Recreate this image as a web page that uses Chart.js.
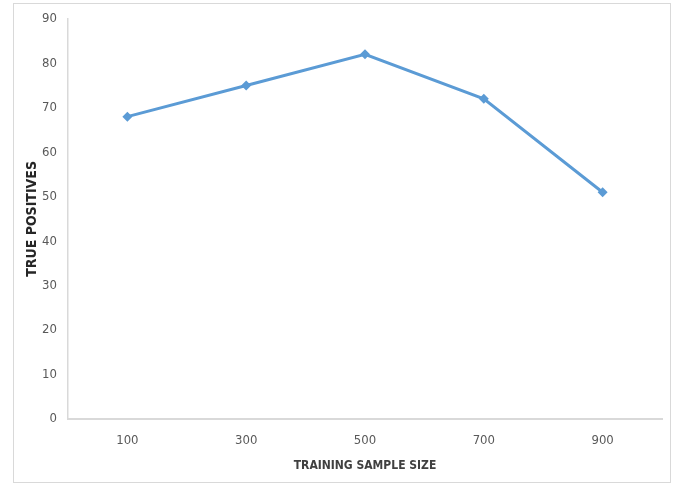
<!DOCTYPE html>
<html>
<head>
<meta charset="utf-8">
<script src="https://cdn.jsdelivr.net/npm/chart.js@4/dist/chart.umd.min.js"></script>
<style>
    html, body { margin: 0; padding: 0; background: #fff; }
    #wrap { position: relative; width: 678px; height: 483px; overflow: hidden; }
    #frame { position: absolute; left: 13px; top: 3px; width: 656px; height: 478px; border: 1px solid #d9d9d9; }
    #chart { position: absolute; left: 0; top: 0; }
</style>
</head>
<body>
<div id="wrap">
    <div id="frame"></div>
    <canvas id="chart" width="678" height="483"></canvas>
</div>
<script>
// Training sample sizes and true positives found for each
const sampleSizes = ['100', '300', '500', '700', '900'];
const truePositives = [68, 75, 82, 72, 51];

const FONT = "'Liberation Sans Narrow', 'DejaVu Sans Condensed', 'Liberation Sans', sans-serif";

const ctx = document.getElementById('chart').getContext('2d');
new Chart(ctx, {
    type: 'line',
    data: {
        labels: sampleSizes,
        datasets: [{
            data: truePositives,
            borderColor: '#5b9bd5',
            backgroundColor: '#5b9bd5',
            borderWidth: 3,
            pointStyle: 'rectRot',
            pointRadius: 5,
            pointBorderWidth: 0,
            tension: 0,
            fill: false
        }]
    },
    options: {
        responsive: false,
        animation: false,
        layout: { padding: { left: 0, right: 16, top: 16, bottom: 0 } },
        plugins: {
            legend: { display: false },
            tooltip: { enabled: false }
        },
        scales: {
            x: {
                offset: true,
                grid: { display: false, drawTicks: false },
                border: { color: '#d9d9d9', width: 2 },
                ticks: { color: '#595959', padding: 14, font: { family: FONT, size: 13 } },
                title: {
                    display: true,
                    text: 'TRAINING SAMPLE SIZE',
                    color: '#404040',
                    padding: { top: 0, bottom: 10 },
                    font: { family: FONT, size: 12, weight: 'bold' }
                },
                afterFit: function(scale) { scale.height = 64; }
            },
            y: {
                min: 0,
                max: 90,
                grid: { display: false, drawTicks: false },
                border: { color: '#d9d9d9', width: 1.5 },
                ticks: { stepSize: 10, color: '#595959', padding: 11, font: { family: FONT, size: 13 } },
                title: {
                    display: true,
                    text: 'TRUE POSITIVES',
                    color: '#262626',
                    padding: { top: 24, bottom: 0 },
                    font: { family: FONT, size: 14, weight: 'bold' }
                },
                afterFit: function(scale) { scale.width = 68; }
            }
        }
    }
});
</script>
</body>
</html>
